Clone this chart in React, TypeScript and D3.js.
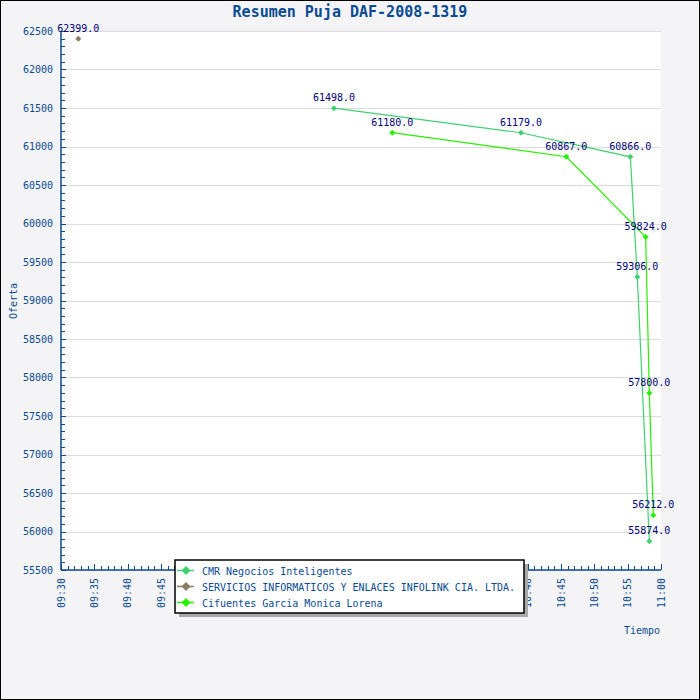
import React from "react";
import * as d3 from "d3";

const TITLE = "Resumen Puja DAF-2008-1319";
const SERIES_NAMES = [
  "CMR Negocios Inteligentes",
  "SERVICIOS INFORMATICOS Y ENLACES INFOLINK CIA. LTDA.",
  "Cifuentes Garcia Monica Lorena",
];
const SERIES_COLORS = ["#40d070", "#8a7d66", "#28f000"];

const cmrTimes = ["10:10:57", "10:39:00", "10:55:24", "10:56:27", "10:58:15"];
const cmrValues = [61498, 61179, 60866, 59306, 55874];
const infolinkTimes = ["09:32:36"];
const infolinkValues = [62399];
const cifuentesTimes = ["10:19:42", "10:45:48", "10:57:42", "10:58:15", "10:58:51"];
const cifuentesValues = [61180, 60867, 59824, 57800, 56212];

const X_START = "09:30:00";
const X_END = "11:00:00";
const Y_MIN = 55500;
const Y_MAX = 62500;

const AXIS = "#0a4b93";
const LABEL = "#00007a";
const FONT = "'DejaVu Sans Mono', 'Liberation Mono', monospace";

const parse = d3.timeParse("%H:%M:%S");

export default function App() {
  const W = 700;
  const H = 700;
  const left = 61, right = 661, top = 31, bottom = 570;

  const x = d3.scaleTime().domain([parse(X_START)!, parse(X_END)!]).range([left, right]);
  const y = d3.scaleLinear().domain([Y_MIN, Y_MAX]).range([bottom, top]);

  const series = [
    { times: cmrTimes, values: cmrValues },
    { times: infolinkTimes, values: infolinkValues },
    { times: cifuentesTimes, values: cifuentesValues },
  ].map((s, i) => ({
    name: SERIES_NAMES[i],
    color: SERIES_COLORS[i],
    pts: s.times.map((t, j) => ({ t: parse(t)!, v: s.values[j] })),
  }));

  const line = d3
    .line<{ t: Date; v: number }>()
    .x((d) => x(d.t))
    .y((d) => y(d.v));

  const yMajor = y.ticks(14);
  const yMinor = y.ticks(70);
  const xMajor = x.ticks(d3.timeMinute.every(5)!);
  const xMinor = x.ticks(d3.timeMinute.every(1)!);
  const fmt = d3.timeFormat("%H:%M");

  const diamond = (cx: number, cy: number, r: number) =>
    `M${cx},${cy - r}L${cx + r},${cy}L${cx},${cy + r}L${cx - r},${cy}Z`;

  const legX = 175, legY = 560, legW = 349, legH = 53;
  const rows = [570.5, 586.5, 602.5];

  return (
    <svg
      width={W}
      height={H}
      style={{ position: "fixed", left: 0, top: 0, display: "block" }}
      fontFamily={FONT}
    >
      <rect x={0} y={0} width={W} height={H} fill="#f4f4f6" />
      <rect x={left} y={top} width={right - left} height={bottom - top} fill="#ffffff" />

      {/* gridlines */}
      {yMajor.map((v) => (
        <line key={"g" + v} x1={left} x2={right} y1={Math.round(y(v)) + 0.5} y2={Math.round(y(v)) + 0.5} stroke="#dcdcdc" strokeWidth={1} />
      ))}

      {/* title */}
      <text x={350} y={17} textAnchor="middle" fontSize={15} fontWeight="bold" fill={AXIS}>
        {TITLE}
      </text>

      {/* y axis */}
      <line x1={left} x2={left} y1={top} y2={bottom} stroke={AXIS} strokeWidth={1.5} />
      {yMinor.map((v) => (
        <line key={"ym" + v} x1={left} x2={left + 4} y1={Math.round(y(v)) + 0.5} y2={Math.round(y(v)) + 0.5} stroke={AXIS} strokeWidth={1} />
      ))}
      {yMajor.map((v) => (
        <g key={"yM" + v}>
          <line x1={left} x2={left + 5} y1={Math.round(y(v)) + 0.5} y2={Math.round(y(v)) + 0.5} stroke={AXIS} strokeWidth={1} />
          <text x={53} y={y(v)} dy="0.35em" textAnchor="end" fontSize={10} fill={AXIS}>
            {v}
          </text>
        </g>
      ))}
      <text transform={`translate(17,301) rotate(-90)`} textAnchor="middle" fontSize={10} fill={AXIS}>
        Oferta
      </text>

      {/* x axis */}
      <line x1={left} x2={right} y1={bottom} y2={bottom} stroke={AXIS} strokeWidth={1.5} />
      {xMinor.map((d) => (
        <line key={"xm" + d.getTime()} x1={Math.round(x(d)) + 0.5} x2={Math.round(x(d)) + 0.5} y1={bottom} y2={bottom - 4} stroke={AXIS} strokeWidth={1} />
      ))}
      {xMajor.map((d) => (
        <g key={"xM" + d.getTime()}>
          <line x1={Math.round(x(d)) + 0.5} x2={Math.round(x(d)) + 0.5} y1={bottom} y2={bottom - 6} stroke={AXIS} strokeWidth={1} />
          <text transform={`translate(${x(d)},578) rotate(-90)`} dy="0.35em" textAnchor="end" fontSize={10} fill={AXIS}>
            {fmt(d)}
          </text>
        </g>
      ))}
      <text x={660} y={634} textAnchor="end" fontSize={10} fill={AXIS}>
        Tiempo
      </text>

      {/* series lines */}
      {series.map((s) =>
        s.pts.length > 1 ? (
          <path key={"l" + s.name} d={line(s.pts) || ""} fill="none" stroke={s.color} strokeWidth={1.2} />
        ) : null
      )}
      {/* markers and labels */}
      {series.map((s) =>
        s.pts.map((p, j) => (
          <g key={s.name + j}>
            <path d={diamond(x(p.t), y(p.v), 3)} fill={s.color} />
            <text x={x(p.t)} y={y(p.v) - 7} textAnchor="middle" fontSize={10} fill={LABEL}>
              {p.v.toFixed(1)}
            </text>
          </g>
        ))
      )}

      {/* legend */}
      <rect x={legX + 4} y={legY + 4} width={legW} height={legH} fill="#aaaaaa" />
      <rect x={legX} y={legY} width={legW} height={legH} fill="#ffffff" stroke="#000000" strokeWidth={1.5} />
      {series.map((s, i) => (
        <g key={"leg" + i}>
          <line x1={177} x2={194} y1={rows[i]} y2={rows[i]} stroke={s.color} strokeWidth={1.5} />
          <path d={diamond(186, rows[i], 4.5)} fill={s.color} />
          <text x={202} y={rows[i] + 4} fontSize={10} fill={AXIS}>
            {s.name}
          </text>
        </g>
      ))}

      {/* outer border */}
      <rect x={0.5} y={0.5} width={W - 1} height={H - 1} fill="none" stroke="#000000" strokeWidth={1} />
    </svg>
  );
}
